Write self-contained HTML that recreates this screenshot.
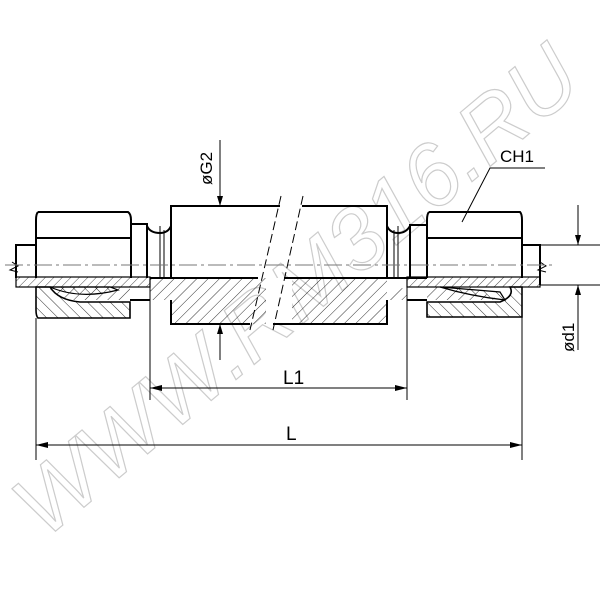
<!DOCTYPE html>
<html><head><style>
html,body{margin:0;padding:0;background:#fff;}
svg{display:block;}
text{font-family:"Liberation Sans",sans-serif;fill:#000;}
</style></head><body>
<svg width="600" height="600" viewBox="0 0 600 600" xmlns="http://www.w3.org/2000/svg">
<defs>
<pattern id="h1" patternUnits="userSpaceOnUse" width="8" height="8" patternTransform="rotate(45)"><line x1="0" y1="0" x2="0" y2="8" stroke="#000" stroke-width="0.8"/></pattern>
<pattern id="h2" patternUnits="userSpaceOnUse" width="8" height="8" patternTransform="rotate(-45)"><line x1="0" y1="0" x2="0" y2="8" stroke="#000" stroke-width="0.8"/></pattern>
<pattern id="h3" patternUnits="userSpaceOnUse" width="6" height="6" patternTransform="rotate(45)"><line x1="0" y1="0" x2="0" y2="6" stroke="#000" stroke-width="0.7"/></pattern>
<marker id="ar" markerWidth="10" markerHeight="6" refX="10" refY="3" orient="auto" markerUnits="userSpaceOnUse"><path d="M0,0 L10,3 L0,6z" fill="#000"/></marker>
</defs>

<!-- watermark -->
<text x="0" y="0" transform="translate(45,540) rotate(-40)" font-size="88" fill="none" stroke="#ccc" stroke-width="1.2" style="fill:none" font-style="italic">WWW.RM316.RU</text>

<!-- body hatched lower half -->
<path d="M150,278 L387,278 L387,295 L390,295 Q395,288 405,288 L407,288 L407,300 L390,300 Q387,300 387,305 L387,324 L171,324 L171,305 Q171,300 165,300 L150,300 Z" fill="url(#h1)" stroke="none"/>
<rect x="266" y="278" width="26" height="47" fill="#fff"/>
<!-- tubes hatched -->
<rect x="16" y="277" width="134" height="10" fill="url(#h3)" stroke="#000" stroke-width="1.2"/>
<rect x="407" y="277" width="133" height="10" fill="url(#h3)" stroke="#000" stroke-width="1.2"/>
<!-- nut lower halves hatched -->
<path d="M36,287 L130,287 L130,300 L85,300 L70,300 Q55,296 48,287 Z" fill="url(#h1)"/>
<path d="M36,287 L50,287 Q58,300 80,302 L130,302 L130,318 L38,318 Q36,316 36,310 Z" fill="url(#h2)" stroke="#000" stroke-width="1.6"/>
<path d="M50,287 Q80,300 118,290 L110,287 Z" fill="url(#h2)" stroke="#000" stroke-width="1.2"/>
<path d="M427,287 L470,287 Q485,294 500,300 L427,300 Z" fill="url(#h1)"/>
<path d="M427,302 L500,302 Q515,296 510,287 L522,287 L522,317 L427,317 Z" fill="url(#h2)" stroke="#000" stroke-width="1.6"/>
<path d="M440,287 Q470,296 505,300 L500,292 Z" fill="url(#h2)" stroke="#000" stroke-width="1.2"/>

<g fill="none" stroke="#000" stroke-width="2">
<path d="M38,212 L128,212 Q131,214 131,220 L131,278 M36,278 L36,220 Q36,214 38,212"/>
<line x1="36" y1="238" x2="131" y2="238"/>
<path d="M429,212 L520,212 Q522,214 522,220 L522,278 M427,278 L427,220 Q427,214 429,212"/>
<line x1="427" y1="238" x2="522" y2="238"/>
<path d="M131,224 L147,224 L147,278"/>
<path d="M147,226 Q150,233 160,233 Q168,233 171,226"/>
<path d="M171,278 L171,206 L280,206 M302,206 L387,206 L387,278"/>
<path d="M171,300 L171,324 L250,324 M273,324 L387,324 L387,300"/>
<line x1="150" y1="278" x2="258" y2="278"/>
<line x1="284" y1="278" x2="427" y2="278"/>
<path d="M387,226 Q390,233 398,233 Q406,233 410,226"/>
<path d="M410,278 L410,225 L427,225"/>
<path d="M36,245 L16,245 L16,278"/>
<path d="M522,245 L540,245 L540,285"/>
<path d="M130,300 L150,300"/>
<path d="M407,300 L427,300"/>
</g>
<g stroke="#000" stroke-width="1" fill="none">
<line x1="160" y1="226" x2="160" y2="278"/><line x1="398" y1="226" x2="398" y2="278"/>
<line x1="164" y1="230" x2="164" y2="278"/><line x1="394" y1="230" x2="394" y2="278"/>
<path d="M12,262 L18,266 L10,270 L18,272"/>
<path d="M540,262 L546,266 L538,270 L546,272"/>
</g>
<line x1="5" y1="265" x2="555" y2="265" stroke="#777" stroke-width="1" stroke-dasharray="18,4,3,4"/>
<g stroke="#000" stroke-width="1" stroke-dasharray="9,4">
<line x1="281" y1="196" x2="250" y2="330"/>
<line x1="303" y1="196" x2="273" y2="330"/>
</g>
<g stroke="#000" stroke-width="1">
<line x1="36" y1="318" x2="36" y2="460"/>
<line x1="522" y1="317" x2="522" y2="460"/>
<line x1="150" y1="287" x2="150" y2="400"/>
<line x1="407" y1="287" x2="407" y2="400"/>
<line x1="540" y1="245" x2="600" y2="245"/>
<line x1="540" y1="285" x2="600" y2="285"/>
<line x1="150" y1="388" x2="407" y2="388"/>
<line x1="36" y1="445" x2="522" y2="445"/>
<line x1="220" y1="140" x2="220" y2="206" marker-end="url(#ar)"/>
<line x1="220" y1="360" x2="220" y2="324" marker-end="url(#ar)"/>
<line x1="578" y1="205" x2="578" y2="245" marker-end="url(#ar)"/>
<line x1="578" y1="350" x2="578" y2="285" marker-end="url(#ar)"/>
<path d="M462,222 L490,168 L545,168" fill="none"/>
</g>
<g fill="#000">
<path d="M150,388 L162,385 L162,391z"/><path d="M407,388 L395,385 L395,391z"/>
<path d="M36,445 L48,442 L48,448z"/><path d="M522,445 L510,442 L510,448z"/>
</g>
<text x="283" y="384" font-size="19">L1</text>
<text x="286" y="440" font-size="19">L</text>
<text x="500" y="162" font-size="17">CH1</text>
<text transform="translate(212,185) rotate(-90)" font-size="17">øG2</text>
<text transform="translate(574,352) rotate(-90)" font-size="17">ød1</text>
</svg>
</body></html>
